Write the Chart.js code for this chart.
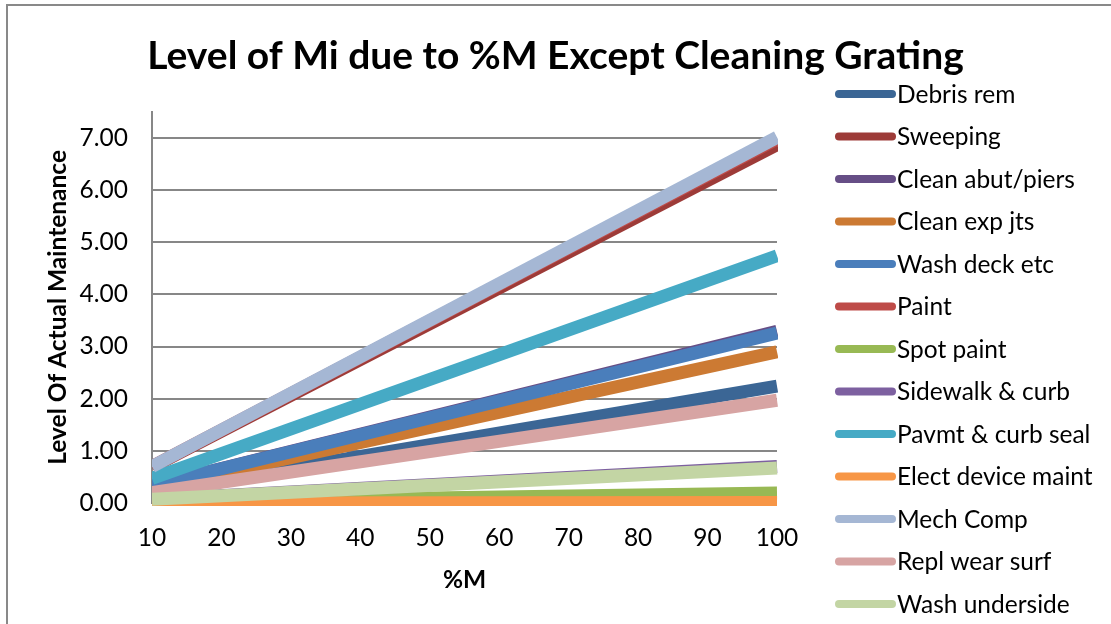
<!DOCTYPE html>
<html>
<head>
<meta charset="utf-8">
<title>Level of Mi due to %M Except Cleaning Grating</title>
<script src="https://cdn.jsdelivr.net/npm/chart.js@4.4.1/dist/chart.umd.min.js"></script>
<style>
  html, body { margin: 0; padding: 0; background: #fff; }
  #wrap { position: relative; width: 1111px; height: 624px; overflow: hidden; }
  #frame { position: absolute; left: 6px; top: 4px; width: 1200px; height: 700px; border: 2px solid #898989; }
  canvas { position: absolute; left: 0; top: 0; }
</style>
</head>
<body>
<div id="wrap">
  <div id="frame"></div>
  <canvas id="miChart" width="1111" height="624"></canvas>
</div>
<script>
// x positions (%M) of the two ends of every straight line
const pctM = [10, 100];
const xTicks = [10, 20, 30, 40, 50, 60, 70, 80, 90, 100];
const yTicks = [0, 1, 2, 3, 4, 5, 6, 7];

// Level of actual maintenance at %M = 10 and %M = 100
const debrisRem = [0.22, 2.24];
const sweeping = [0.69, 6.87];
const cleanAbutPiers = [0.33, 3.29];
const cleanExpJts = [0.29, 2.90];
const washDeckEtc = [0.33, 3.26];
const paint = [0.70, 6.98];
const spotPaint = [0.02, 0.19];
const sidewalkCurb = [0.07, 0.70];
const pavmtCurbSeal = [0.47, 4.74];
const electDeviceMaint = [0.00, 0.01];
const mechComp = [0.70, 7.01];
const replWearSurf = [0.20, 1.97];
const washUnderside = [0.07, 0.67];

const series = [
    { label: 'Debris rem', data: debrisRem, color: '#3B6695' },
    { label: 'Sweeping', data: sweeping, color: '#9D3B38' },
    { label: 'Clean abut/piers', data: cleanAbutPiers, color: '#664E86' },
    { label: 'Clean exp jts', data: cleanExpJts, color: '#CC7A33' },
    { label: 'Wash deck etc', data: washDeckEtc, color: '#4A7EBB' },
    { label: 'Paint', data: paint, color: '#BE4B48' },
    { label: 'Spot paint', data: spotPaint, color: '#98B954' },
    { label: 'Sidewalk & curb', data: sidewalkCurb, color: '#7D60A0' },
    { label: 'Pavmt & curb seal', data: pavmtCurbSeal, color: '#46AAC5' },
    { label: 'Elect device maint', data: electDeviceMaint, color: '#F79646' },
    { label: 'Mech Comp', data: mechComp, color: '#A5B7D4' },
    { label: 'Repl wear surf', data: replWearSurf, color: '#D7A4A3' },
    { label: 'Wash underside', data: washUnderside, color: '#C3D5A4' }
];

const FONT = 'Lato, "Open Sans", sans-serif';
const GRID = '#878787';

// Legend drawn at the right, one row per series (Excel style)
const sideLegend = {
    id: 'sideLegend',
    afterDraw(chart) {
        const ctx = chart.ctx;
        ctx.save();
        ctx.font = '24.5px ' + FONT;
        ctx.textBaseline = 'middle';
        ctx.fillStyle = '#000';
        chart.data.datasets.forEach((ds, i) => {
            const y = 94 + i * 42.5;
            ctx.beginPath();
            ctx.lineWidth = 8;
            ctx.lineCap = 'round';
            ctx.strokeStyle = ds.borderColor;
            ctx.moveTo(839, y);
            ctx.lineTo(892, y);
            ctx.stroke();
            ctx.fillText(ds.label, 897, y + 1);
        });
        ctx.restore();
    }
};

const ctx = document.getElementById('miChart').getContext('2d');

new Chart(ctx, {
    type: 'line',
    data: {
        datasets: series.map((s, i) => ({
            label: s.label,
            data: s.data.map((v, j) => ({ x: pctM[j], y: v })),
            borderColor: s.color,
            backgroundColor: s.color,
            borderWidth: 13,
            borderCapStyle: 'butt',
            pointRadius: 0,
            pointHoverRadius: 0,
            tension: 0,
            fill: false,
            // later series sit on top, like the spreadsheet
            order: series.length - i,
            clip: { left: 0, top: 10, right: 1, bottom: 3 }
        }))
    },
    options: {
        responsive: false,
        animation: false,
        devicePixelRatio: 1,
        layout: { padding: 0 },
        plugins: {
            legend: { display: false },
            tooltip: { enabled: false },
            title: {
                display: true,
                text: 'Level of Mi due to %M Except Cleaning Grating',
                color: '#000',
                font: { family: FONT, size: 39, weight: 'bold' },
                padding: { top: 33, bottom: 32 }
            }
        },
        scales: {
            x: {
                type: 'linear',
                min: 10,
                max: 100,
                afterBuildTicks: scale => {
                    scale.ticks = xTicks.map(v => ({ value: v }));
                },
                afterFit: scale => {
                    scale.height = 121;
                    scale.paddingRight = 334;
                },
                ticks: {
                    color: '#000',
                    font: { family: FONT, size: 24.5 },
                    padding: 20,
                    maxRotation: 0,
                    autoSkip: false
                },
                grid: { display: false, drawTicks: false },
                border: { display: false },
                title: {
                    display: true,
                    text: '%M',
                    color: '#000',
                    font: { family: FONT, size: 24.5, weight: 'bold' },
                    padding: { top: 4, bottom: 29 }
                }
            },
            y: {
                min: 0,
                max: 7.5,
                afterBuildTicks: scale => {
                    scale.ticks = yTicks.map(v => ({ value: v }));
                },
                afterFit: scale => {
                    scale.width = 152;
                },
                ticks: {
                    color: '#000',
                    font: { family: FONT, size: 24.5 },
                    padding: 24,
                    callback: v => Number(v).toFixed(2)
                },
                grid: { color: GRID, lineWidth: 2, drawTicks: false },
                border: { display: true, color: GRID, width: 2 },
                title: {
                    display: true,
                    text: 'Level Of Actual Maintenance',
                    color: '#000',
                    font: { family: FONT, size: 24.5, weight: 'bold' },
                    padding: { top: 43, bottom: 10 }
                }
            }
        }
    },
    plugins: [sideLegend]
});
</script>
</body>
</html>
